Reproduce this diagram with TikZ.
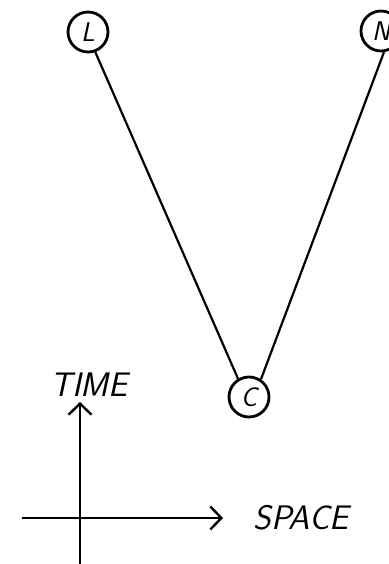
\documentclass[tikz,border=0pt]{standalone}
\usepackage{fontspec}
\usetikzlibrary{arrows.meta}
\begin{document}
\begin{tikzpicture}[x=1pt,y=-1pt,
  event/.style={circle,draw,line width=2.8pt,minimum size=40pt,inner sep=0pt,font=\sffamily\itshape\fontsize{27}{27}\selectfont},
  world/.style={line width=2.2pt},
  axis/.style={line width=2.4pt,-{Straight Barb[length=11pt,width=23pt,line width=2.4pt]}},
  lbl/.style={font=\sffamily\itshape\fontsize{34}{34}\selectfont,inner sep=0pt}]
\useasboundingbox (0,0) rectangle (388,564);
\node[event] (L) at (88,32) {L};
\node[event] (N) at (381,31) {N};
\node[event] (C) at (249,397) {C};
\draw[world] (L.-70) -- (C.121);
\draw[world] (N.-82) -- (C.56);
\coordinate (tb) at (80,570);
\coordinate (tt) at (80,402);
\coordinate (sl) at (22,518);
\coordinate (sr) at (223,518);
\draw[axis] (tb) -- (tt);
\draw[axis] (sl) -- (sr);
\node[lbl] (time) at (89,385) {TIME};
\node[lbl] (space) at (301,518) {SPACE};
\end{tikzpicture}
\end{document}
